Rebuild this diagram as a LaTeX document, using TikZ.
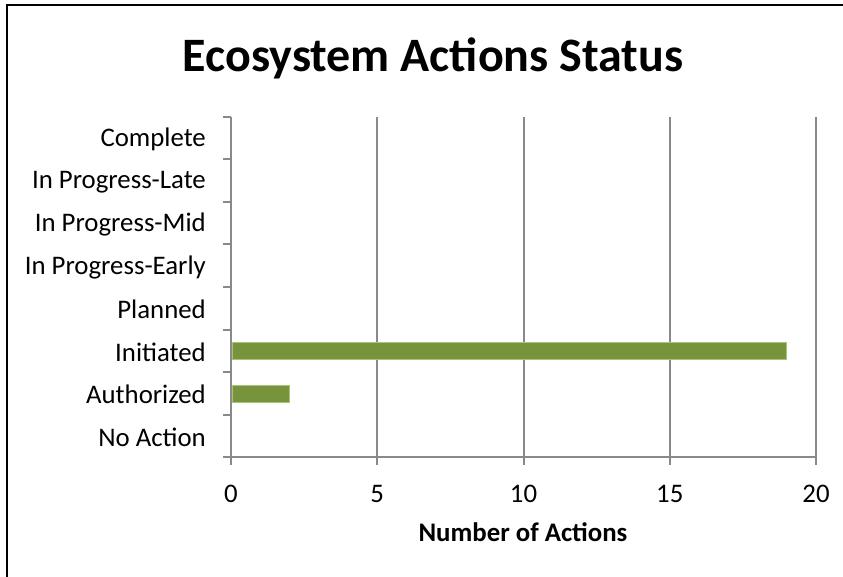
\documentclass[tikz,border=0pt]{standalone}
\usepackage{fontspec}
\setmainfont{Carlito}
\definecolor{bargreen}{HTML}{77933C}
\definecolor{baredge}{HTML}{A9C47A}
\definecolor{gridgray}{HTML}{898989}
\begin{document}
\begin{tikzpicture}[x=1pt,y=-1pt,
  catlabel/.style={anchor=east,inner sep=0pt,font=\fontsize{26.8}{30}\selectfont},
  numlabel/.style={anchor=center,inner sep=0pt,font=\fontsize{26.8}{30}\selectfont},
  gridline/.style={draw=gridgray,line width=2pt},
  bar/.style={fill=bargreen,draw=baredge,line width=0.8pt}]
\useasboundingbox (0,0) rectangle (843,577);
\fill[white] (0,0) rectangle (843,577);
% frame
\draw[black,line width=2pt] (7,580) -- (7,5) -- (846,5);
% title
\node[inner sep=0pt,font=\bfseries\fontsize{48}{52}\selectfont] (title) at (433,58) {Ecosystem Actions Status};
% grid lines and ticks
\foreach \v/\lab in {0/0,5/5,10/10,15/15,20/20}{
  \pgfmathsetmacro{\xx}{231+29.25*\v}
  \draw[gridline] (\xx,117) -- (\xx,465);
  \node[numlabel] (n\v) at (\xx,494) {\lab};
}
% x axis
\draw[gridline] (231,457) -- (816,457);
% y ticks
\foreach \i in {0,...,8}{
  \pgfmathsetmacro{\yy}{117+42.5*\i}
  \draw[gridline] (223,\yy) -- (231,\yy);
}
% category labels
\foreach \i/\lab in {0/Complete,1/In Progress-Late,2/In Progress-Mid,3/In Progress-Early,4/Planned,5/Initiated,6/Authorized,7/No Action}{
  \pgfmathsetmacro{\yy}{117+42.5*\i+22.5}
  \node[catlabel] (c\i) at (206,\yy) {\lab};
}
% bars
\draw[bar] (232,342.5) rectangle (786.75,359.5);
\draw[bar] (232,385) rectangle (289.5,402);
% axis title
\node[inner sep=0pt,font=\bfseries\fontsize{26.8}{30}\selectfont] (xtitle) at (523,532) {Number of Actions};
\end{tikzpicture}
\end{document}
